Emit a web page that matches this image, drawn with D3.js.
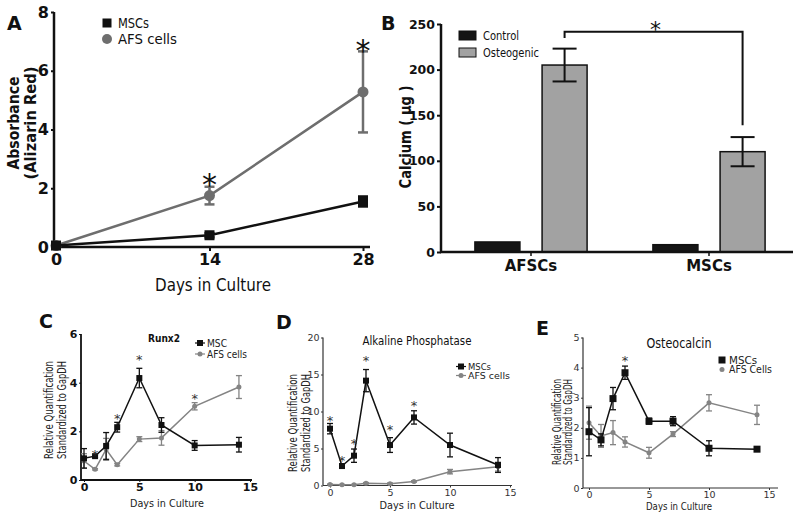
<!DOCTYPE html>
<html>
<head>
<meta charset="utf-8">
<script src="https://cdn.jsdelivr.net/npm/d3@7"></script>
<style>
  body { margin: 0; background: #fff; }
  svg { display: block; font-family: "DejaVu Sans", sans-serif; }
</style>
</head>
<body>
<svg width="800" height="515"></svg>
<script>
// ---- DATA ----
// A: Alizarin red absorbance
const daysA = [0, 14, 28];
const mscA = [0.05, 0.4, 1.55];
const mscAErr = [0.04, 0.07, 0.17];
const afsA = [0.05, 1.75, 5.28];
const afsAErr = [0.04, 0.3, 1.38];
const starsADay = [14, 28];
const starsAVal = [2.4, 6.95];
const ticksAx = [0, 14, 28];
const ticksAy = [0, 2, 4, 6, 8];

// B: calcium content
const groupsB = ["AFSCs", "MSCs"];
const treatB = ["Control", "Osteogenic"];
const controlB = [11, 8];
const controlBErr = [0.8, 0.5];
const osteoB = [205, 110];
const osteoBErr = [18, 16];
const ticksBy = [0, 50, 100, 150, 200, 250];
const bracketB = [241.6, 234.6, 139, 250]; // top, left end, right end, star (µg units)

// C-E: qPCR time course
const daysQ = [0, 1, 2, 3, 5, 7, 10, 14];
const ticksQx = [0, 5, 10, 15];

const runxMsc = [0.89, 0.98, 1.4, 2.17, 4.19, 2.26, 1.42, 1.45];
const runxMscErr = [0.4, 0.05, 0.55, 0.2, 0.4, 0.3, 0.2, 0.3];
const runxAfs = [0.78, 0.44, 1.26, 0.63, 1.68, 1.73, 3.03, 3.82];
const runxAfsErr = [0.3, 0.03, 0.45, 0.05, 0.1, 0.3, 0.15, 0.47];
const runxStarDays = [1, 3, 5, 10];
const runxStarVals = [1.2, 2.65, 5.07, 3.5];

const alpMsc = [7.68, 2.63, 4.03, 14.17, 5.47, 9.2, 5.47, 2.77];
const alpMscErr = [0.7, 0.3, 0.9, 1.5, 1.0, 0.9, 1.6, 1.0];
const alpAfs = [0.15, 0.1, 0.1, 0.3, 0.25, 0.55, 1.87, 2.55];
const alpAfsErr = [0.05, 0.05, 0.05, 0.1, 0.1, 0.1, 0.3, 0.6];
const alpStarDays = [0, 1, 2, 3, 5, 7];
const alpStarVals = [9.2, 3.85, 6.1, 17.4, 7.95, 11.3];

const ocMsc = [1.87, 1.6, 2.97, 3.83, 2.22, 2.22, 1.32, 1.29];
const ocMscErr = [0.8, 0.2, 0.37, 0.22, 0.1, 0.15, 0.25, 0.06];
const ocAfs = [2.17, 1.73, 1.84, 1.53, 1.17, 1.79, 2.83, 2.43];
const ocAfsErr = [0.55, 0.38, 0.4, 0.17, 0.18, 0.08, 0.27, 0.32];
const ocStarDays = [3];
const ocStarVals = [4.34];

// ---- HELPERS ----
const svg = d3.select("svg");
const INK = "#111";
const fmt = d3.format("d");

function txt(g, s, x, y, o = {}) {
  const t = g.append("text")
    .attr("x", x).attr("y", y)
    .attr("font-size", o.size || 12)
    .attr("font-weight", o.weight || "normal")
    .attr("text-anchor", o.anchor || "start")
    .attr("fill", o.fill || INK)
    .text(s);
  if (o.len) t.attr("textLength", o.len).attr("lengthAdjust", "spacingAndGlyphs");
  if (o.rot) t.attr("transform", `rotate(${o.rot},${x},${y})`);
  return t;
}

// asterisk centred on (x, y)
function star(g, x, y, size, fill) {
  g.append("text").attr("x", x).attr("y", y).attr("dy", "0.6em")
    .attr("font-size", size).attr("text-anchor", "middle")
    .attr("fill", fill || INK).text("*");
}

function marker(g, shape, x, y, s, color) {
  if (shape === "square") {
    g.append("rect").attr("x", x - s / 2).attr("y", y - s / 2)
      .attr("width", s).attr("height", s).attr("fill", color);
  } else {
    g.append("circle").attr("cx", x).attr("cy", y).attr("r", s / 2).attr("fill", color);
  }
}

function series(g, x, y, xs, vals, errs, o) {
  const pts = xs.map((d, i) => [d, vals[i], errs[i]]);
  g.append("path").datum(pts)
    .attr("fill", "none").attr("stroke", o.color).attr("stroke-width", o.lw)
    .attr("d", d3.line().x(d => x(d[0])).y(d => y(d[1])));
  const eb = g.append("g").attr("stroke", o.color).attr("stroke-width", o.elw || o.lw);
  pts.forEach(d => {
    const cx = x(d[0]), hi = y(d[1] + d[2]), lo = y(Math.max(0, d[1] - d[2]));
    eb.append("line").attr("x1", cx).attr("x2", cx).attr("y1", hi).attr("y2", lo);
    eb.append("line").attr("x1", cx - o.cap).attr("x2", cx + o.cap).attr("y1", hi).attr("y2", hi);
    eb.append("line").attr("x1", cx - o.cap).attr("x2", cx + o.cap).attr("y1", lo).attr("y2", lo);
  });
  pts.forEach(d => marker(g, o.shape, x(d[0]), y(d[1]), o.ms, o.color));
}

function styleAxis(a, o) {
  a.select(".domain").remove();
  a.selectAll(".tick line").attr("stroke", o.color).attr("stroke-width", o.lw);
  a.selectAll(".tick text")
    .attr("font-family", '"DejaVu Sans", sans-serif')
    .attr("font-size", o.size).attr("font-weight", o.weight)
    .attr("fill", o.color);
}

// ---- PANEL A ----
(function () {
  const g = svg.append("g");
  const x = d3.scaleLinear().domain([0, 28]).range([56, 363]);
  const y = d3.scaleLinear().domain([0, 8]).range([247, 12]);
  const ax = g.append("g").attr("transform", "translate(0,247)")
    .call(d3.axisBottom(x).tickValues(ticksAx).tickFormat(fmt).tickSize(4).tickPadding(3));
  styleAxis(ax, { color: INK, lw: 2, size: 16, weight: "bold" });
  const ay = g.append("g").attr("transform", "translate(54,0)")
    .call(d3.axisLeft(y).tickValues(ticksAy).tickFormat(fmt).tickSize(3).tickPadding(2));
  styleAxis(ay, { color: INK, lw: 2, size: 16, weight: "bold" });
  g.append("line").attr("x1", 54).attr("x2", 54).attr("y1", y(8)).attr("y2", 248)
    .attr("stroke", INK).attr("stroke-width", 2.5);
  g.append("line").attr("x1", 53).attr("x2", 370).attr("y1", 247).attr("y2", 247)
    .attr("stroke", INK).attr("stroke-width", 2.5);

  const grayA = "#6e6e6e";
  series(g, x, y, daysA, afsA, afsAErr, { color: grayA, lw: 2.5, cap: 5, shape: "circle", ms: 11 });
  series(g, x, y, daysA, mscA, mscAErr, { color: INK, lw: 2.5, cap: 5, shape: "square", ms: 10 });
  starsADay.forEach((d, i) => star(g, x(d), y(starsAVal[i]), 30));

  marker(g, "square", 107, 23, 9, INK);
  marker(g, "circle", 107, 39, 10, grayA);
  txt(g, "MSCs", 118, 28, { size: 14, len: 31 });
  txt(g, "AFS cells", 118, 44, { size: 14, len: 59 });

  txt(g, "Days in Culture", 213, 291, { size: 18, anchor: "middle", len: 116 });
  txt(g, "Absorbance", 19, 123, { size: 16, weight: "bold", anchor: "middle", rot: -90, len: 93 });
  txt(g, "(Alizarin Red)", 36, 123, { size: 16, weight: "bold", anchor: "middle", rot: -90, len: 113 });
  txt(g, "A", 7, 30, { size: 19, weight: "bold" });
})();

// ---- PANEL B ----
(function () {
  const g = svg.append("g");
  const y = d3.scaleLinear().domain([0, 250]).range([252, 24]);
  const x0 = d3.scaleBand().domain(groupsB).range([442, 798]);
  const x1 = d3.scaleBand().domain(treatB).range([0, x0.bandwidth()])
    .paddingInner(0.33).paddingOuter(0.49);
  const fills = { Control: "#151515", Osteogenic: "#a2a2a2" };
  const vals = { Control: controlB, Osteogenic: osteoB };
  const errs = { Control: controlBErr, Osteogenic: osteoBErr };

  const ay = g.append("g").attr("transform", "translate(441,0)")
    .call(d3.axisLeft(y).tickValues(ticksBy).tickFormat(fmt).tickSize(4).tickPadding(2));
  styleAxis(ay, { color: INK, lw: 2, size: 12.5, weight: "bold" });
  const ax = g.append("g").attr("transform", "translate(0,252)")
    .call(d3.axisBottom(x0).tickSize(4).tickPadding(4));
  styleAxis(ax, { color: INK, lw: 1.5, size: 15, weight: "bold" });

  groupsB.forEach((grp, gi) => {
    treatB.forEach(t => {
      const bx = x0(grp) + x1(t), v = vals[t][gi], e = errs[t][gi];
      g.append("rect").attr("x", bx).attr("y", y(v))
        .attr("width", x1.bandwidth()).attr("height", y(0) - y(v))
        .attr("fill", fills[t]).attr("stroke", INK).attr("stroke-width", 1.5);
      if (t === "Osteogenic") {
        const cx = bx + x1.bandwidth() / 2;
        const eg = g.append("g").attr("stroke", INK).attr("stroke-width", 2);
        eg.append("line").attr("x1", cx).attr("x2", cx).attr("y1", y(v + e)).attr("y2", y(v - e));
        [v + e, v - e].forEach(yy => eg.append("line")
          .attr("x1", cx - 12).attr("x2", cx + 12).attr("y1", y(yy)).attr("y2", y(yy)));
      }
    });
  });

  g.append("line").attr("x1", 441).attr("x2", 441).attr("y1", 24).attr("y2", 253)
    .attr("stroke", INK).attr("stroke-width", 2.5);
  g.append("line").attr("x1", 440).attr("x2", 793).attr("y1", 252).attr("y2", 252)
    .attr("stroke", INK).attr("stroke-width", 2.5);

  // significance bracket
  const lx = x0("AFSCs") + x1("Osteogenic") + x1.bandwidth() / 2;
  const rx = x0("MSCs") + x1("Osteogenic") + x1.bandwidth() / 2;
  g.append("path").attr("fill", "none").attr("stroke", INK).attr("stroke-width", 2)
    .attr("d", `M${lx},${y(bracketB[1])}V${y(bracketB[0])}H${rx}V${y(bracketB[2])}`);
  star(g, (lx + rx) / 2 + 2, y(bracketB[3]), 22);

  // legend
  treatB.forEach((t, i) => {
    g.append("rect").attr("x", 459).attr("y", 31 + i * 17).attr("width", 17).attr("height", 9)
      .attr("fill", fills[t]).attr("stroke", INK).attr("stroke-width", 1);
    txt(g, t, 483, 40 + i * 17, { size: 12, len: t === "Control" ? 36 : 56 });
  });

  txt(g, "Calcium ( µg )", 411, 137, { size: 16, weight: "bold", anchor: "middle", rot: -90, len: 103 });
  txt(g, "B", 381, 30, { size: 19, weight: "bold" });
})();

// ---- PANELS C-E ----
function qPanel(c) {
  const g = svg.append("g");
  const x = d3.scaleLinear().domain([0, 15]).range(c.xr);
  const y = d3.scaleLinear().domain([0, c.ymax]).range(c.yr);
  const ax = g.append("g").attr("transform", `translate(0,${c.yr[0]})`)
    .call(d3.axisBottom(x).tickValues(ticksQx).tickFormat(fmt).tickSize(2).tickPadding(1.5));
  styleAxis(ax, { color: c.axColor, lw: 1, size: c.tickSize, weight: c.tickWeight });
  const ay = g.append("g").attr("transform", `translate(${c.axisX},0)`)
    .call(d3.axisLeft(y).tickValues(c.yticks).tickFormat(fmt).tickSize(2).tickPadding(1.5));
  styleAxis(ay, { color: c.axColor, lw: 1, size: c.tickSize, weight: c.tickWeight });
  g.append("line").attr("x1", c.axisX).attr("x2", c.axisX).attr("y1", c.yr[1]).attr("y2", c.yr[0])
    .attr("stroke", c.axColor).attr("stroke-width", c.axW);
  g.append("line").attr("x1", c.axisX).attr("x2", c.xEnd).attr("y1", c.yr[0]).attr("y2", c.yr[0])
    .attr("stroke", c.axColor).attr("stroke-width", c.axW);

  const gray = "#848484";
  series(g, x, y, daysQ, c.afs, c.afsErr, { color: gray, lw: 1.5, elw: 1.3, cap: 3, shape: "circle", ms: 5 });
  series(g, x, y, daysQ, c.msc, c.mscErr, { color: INK, lw: 1.5, elw: 1.3, cap: 3, shape: "square", ms: c.ms });
  c.starDays.forEach((d, i) => star(g, x(d), y(c.starVals[i]), 13, "#333"));

  // legend
  [[c.mscName, "square", INK, c.ms], [c.afsName, "circle", gray, 5]].forEach((l, i) => {
    const ly = c.leg[1] + i * c.leg[2];
    if (c.legLine) g.append("line").attr("x1", c.leg[0] - 5).attr("x2", c.leg[0] + 5)
      .attr("y1", ly).attr("y2", ly).attr("stroke", l[2]).attr("stroke-width", 1.2);
    marker(g, l[1], c.leg[0], ly, l[3], l[2]);
    txt(g, l[0], c.leg[0] + 7, ly + 3.5, { size: c.legSize, len: c.legLen[i], fill: "#222" });
  });

  txt(g, c.title, c.titlePos[0], c.titlePos[1],
    { size: c.titleSize, weight: c.titleWeight, anchor: "middle", len: c.titleLen, fill: "#111" });
  txt(g, "Days in Culture", c.xlab[0], c.xlab[1], { size: 11, anchor: "middle", len: c.xlab[2], fill: "#222" });
  txt(g, "Relative Quantification", c.ylab[0], c.ylab[2],
    { size: 11.5, anchor: "middle", rot: -90, len: c.ylab[3], fill: "#222" });
  txt(g, "Standardized to GapDH", c.ylab[1], c.ylab[2],
    { size: 11.5, anchor: "middle", rot: -90, len: c.ylab[3], fill: "#222" });
  txt(g, c.letter, c.letterPos[0], c.letterPos[1], { size: 19, weight: "bold" });
}

qPanel({
  xr: [84, 250], yr: [480, 334], ymax: 6, yticks: [0, 2, 4, 6], axisX: 81, xEnd: 252,
  axColor: INK, axW: 1.8, tickSize: 11, tickWeight: "bold",
  msc: runxMsc, mscErr: runxMscErr, afs: runxAfs, afsErr: runxAfsErr, ms: 6,
  starDays: runxStarDays, starVals: runxStarVals,
  mscName: "MSC", afsName: "AFS cells", leg: [200, 343, 11], legLine: true, legSize: 10, legLen: [20, 40],
  title: "Runx2", titlePos: [164, 342], titleSize: 11, titleWeight: "bold", titleLen: 32,
  xlab: [167, 507, 74], ylab: [53, 66, 410, 98], letter: "C", letterPos: [39, 328]
});

qPanel({
  xr: [330, 510], yr: [485.5, 337.5], ymax: 20, yticks: [0, 5, 10, 15, 20], axisX: 323, xEnd: 512,
  axColor: "#333", axW: 1.2, tickSize: 9.5, tickWeight: "normal",
  msc: alpMsc, mscErr: alpMscErr, afs: alpAfs, afsErr: alpAfsErr, ms: 6,
  starDays: alpStarDays, starVals: alpStarVals,
  mscName: "MSCs", afsName: "AFS cells", leg: [461, 366.5, 9], legLine: true, legSize: 9, legLen: [23, 42],
  title: "Alkaline Phosphatase", titlePos: [417, 345], titleSize: 13, titleWeight: "normal", titleLen: 109,
  xlab: [417, 509, 75], ylab: [297, 310, 423, 98], letter: "D", letterPos: [276, 329]
});

qPanel({
  xr: [589, 769], yr: [488, 337.5], ymax: 5, yticks: [0, 1, 2, 3, 4, 5], axisX: 583, xEnd: 778,
  axColor: "#333", axW: 1.2, tickSize: 9.5, tickWeight: "normal",
  msc: ocMsc, mscErr: ocMscErr, afs: ocAfs, afsErr: ocAfsErr, ms: 7,
  starDays: ocStarDays, starVals: ocStarVals,
  mscName: "MSCs", afsName: "AFS Cells", leg: [722, 360, 9.5], legLine: false, legSize: 10, legLen: [28, 43],
  title: "Osteocalcin", titlePos: [679, 348], titleSize: 14, titleWeight: "normal", titleLen: 65,
  xlab: [679, 510, 66], ylab: [561, 572, 422, 86], letter: "E", letterPos: [536, 335]
});
</script>
</body>
</html>
